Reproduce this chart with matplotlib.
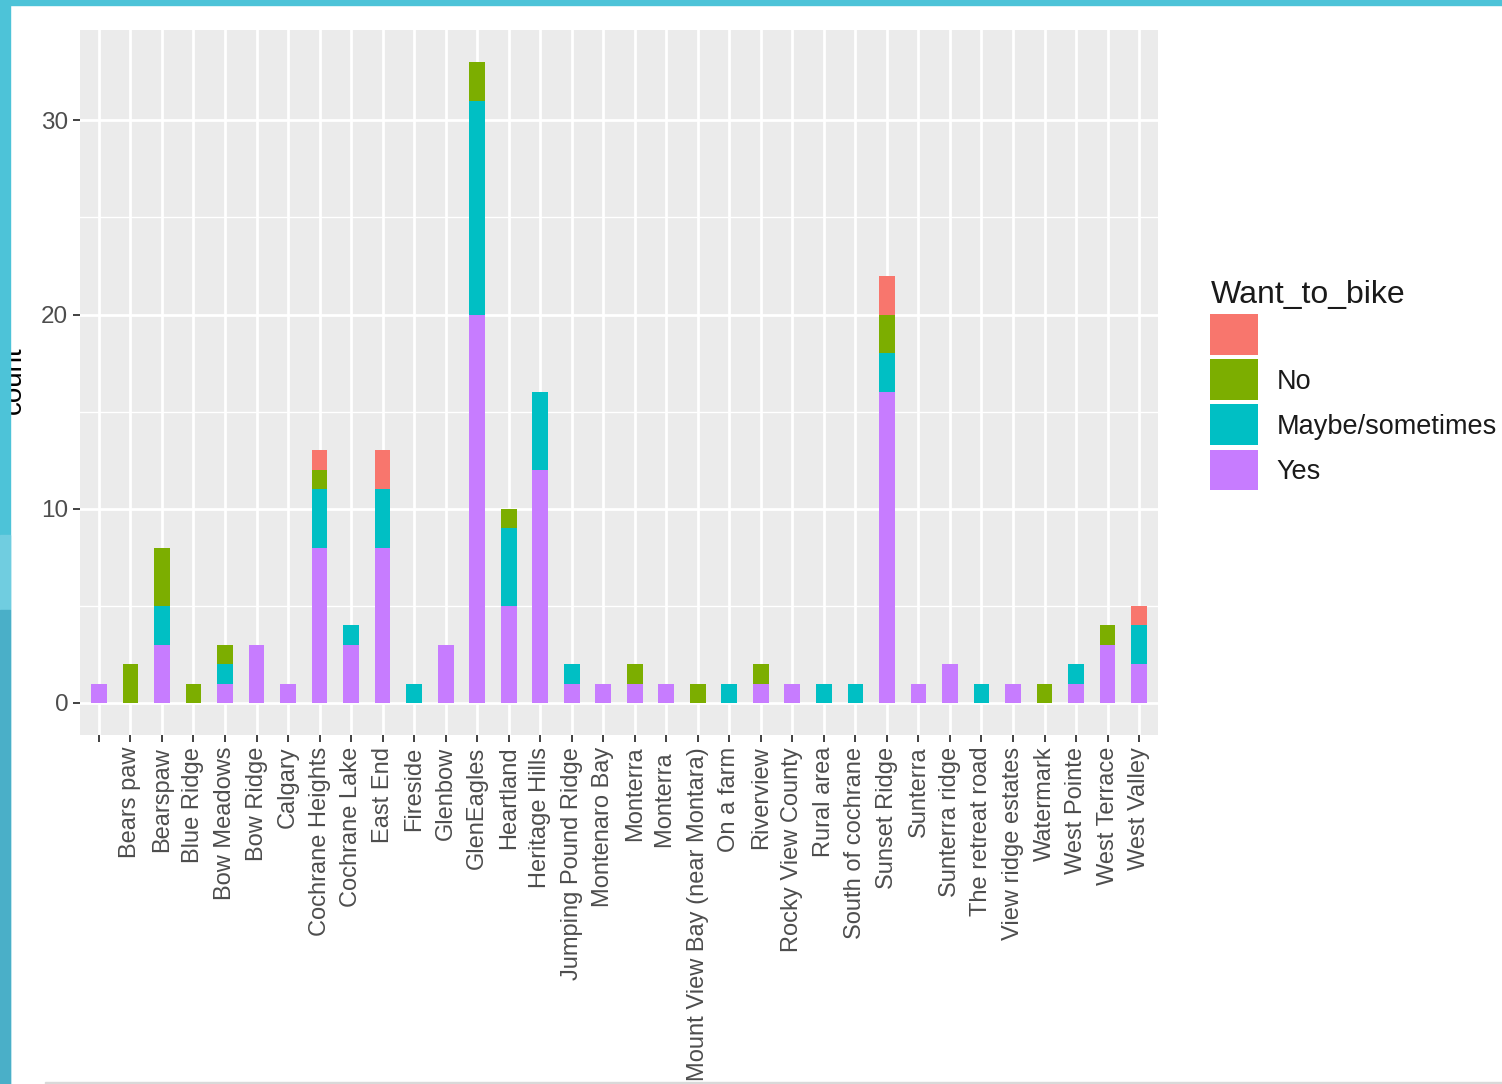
import numpy as np
import matplotlib
matplotlib.use("Agg")
import matplotlib.pyplot as plt
from matplotlib.patches import Patch, Rectangle

plt.rcParams["font.family"] = ["Liberation Sans", "DejaVu Sans"]

# neighbourhoods (first one is an empty answer)
areas = ["", "Bears paw", "Bearspaw", "Blue Ridge", "Bow Meadows", "Bow Ridge",
         "Calgary", "Cochrane Heights", "Cochrane Lake", "East End", "Fireside",
         "Glenbow", "GlenEagles", "Heartland", "Heritage Hills",
         "Jumping Pound Ridge", "Montenaro Bay", "Monterra", "Monterra ",
         "Mount View Bay (near Montara)", "On a farm", "Riverview",
         "Rocky View County", "Rural area", "South of cochrane", "Sunset Ridge",
         "Sunterra", "Sunterra ridge", "The retreat road", "View ridge estates",
         "Watermark", "West Pointe", "West Terrace", "West Valley"]

# counts per answer, same order as areas
yes =   [1, 0, 3, 0, 1, 3, 1, 8, 3, 8, 0, 3, 20, 5, 12, 1, 1, 1, 1, 0, 0, 1, 1, 0, 0, 16, 1, 2, 0, 1, 0, 1, 3, 2]
maybe = [0, 0, 2, 0, 1, 0, 0, 3, 1, 3, 1, 0, 11, 4, 4, 1, 0, 0, 0, 0, 1, 0, 0, 1, 1, 2, 0, 0, 1, 0, 0, 1, 0, 2]
no =    [0, 2, 3, 1, 1, 0, 0, 1, 0, 0, 0, 0, 2, 1, 0, 0, 0, 1, 0, 1, 0, 1, 0, 0, 0, 2, 0, 0, 0, 0, 1, 0, 1, 0]
blank = [0, 0, 0, 0, 0, 0, 0, 1, 0, 2, 0, 0, 0, 0, 0, 0, 0, 0, 0, 0, 0, 0, 0, 0, 0, 2, 0, 0, 0, 0, 0, 0, 0, 1]

levels = ["", "No", "Maybe/sometimes", "Yes"]
colors = ["#F8766D", "#7CAE00", "#00BFC4", "#C77CFF"]

fig = plt.figure(figsize=(15.02, 10.84), dpi=100)
ax = fig.add_axes([80 / 1502, 349 / 1084, 1078 / 1502, 705 / 1084])

x = np.arange(len(areas))
series = [yes, maybe, no, blank]
bottom = np.zeros(len(areas))
for vals, col in zip(series, colors[::-1]):
    ax.bar(x, vals, width=0.5, bottom=bottom, color=col, zorder=3)
    bottom += np.array(vals)

ax.set_facecolor("#EBEBEB")
ax.set_xlim(-0.6, len(areas) - 0.4)
ax.set_ylim(-1.65, 34.65)
ax.set_yticks([0, 10, 20, 30])
ax.set_yticks([5, 15, 25], minor=True)
ax.set_xticks(x)
ax.set_xticklabels(areas, rotation=90, fontsize=17, color="#4D4D4D")
ax.tick_params(axis="y", labelsize=17.5, labelcolor="#4D4D4D")
ax.tick_params(which="major", color="#333333", length=5, width=1.3)
ax.tick_params(which="minor", length=0)
ax.grid(which="major", color="white", linewidth=2.0, zorder=0)
ax.grid(which="minor", axis="y", color="white", linewidth=1.0, zorder=0)
ax.set_axisbelow(True)
for s in ax.spines.values():
    s.set_visible(False)

fig.text(14 / 1502, 1 - 380 / 1084, "count", rotation=90, fontsize=20,
         color="black", ha="center", va="center", zorder=1)

handles = [Patch(facecolor=c, edgecolor="none") for c in colors]
leg = fig.legend(handles, levels, loc="upper left",
                 bbox_to_anchor=(1186 / 1502, 1 - 256 / 1084),
                 frameon=False, title="Want_to_bike", fontsize=19.5,
                 title_fontsize=23, handlelength=1.77, handleheight=1.95,
                 labelspacing=0.15, handletextpad=0.67, alignment="left")
leg.get_title().set_color("#1A1A1A")
for t in leg.get_texts():
    t.set_color("#1A1A1A")

# screenshot frame
fig.patches.append(Rectangle((0, 0), 10 / 1502, 1, transform=fig.transFigure,
                             color="#4DC3D8", zorder=10))
fig.patches.append(Rectangle((0, 1 - 610 / 1084), 10 / 1502, 75 / 1084,
                             transform=fig.transFigure, color="#70CDE0", zorder=11))
fig.patches.append(Rectangle((0, 0), 10 / 1502, 1 - 610 / 1084,
                             transform=fig.transFigure, color="#4AAFC8", zorder=11))
fig.patches.append(Rectangle((0, 1 - 5 / 1084), 1, 5 / 1084,
                             transform=fig.transFigure, color="#4DC3D8", zorder=10))
fig.patches.append(Rectangle((45 / 1502, 0), 1457 / 1502, 2 / 1084,
                             transform=fig.transFigure, color="#D9D9D9", zorder=10))

fig.savefig("out.png", dpi=100)
